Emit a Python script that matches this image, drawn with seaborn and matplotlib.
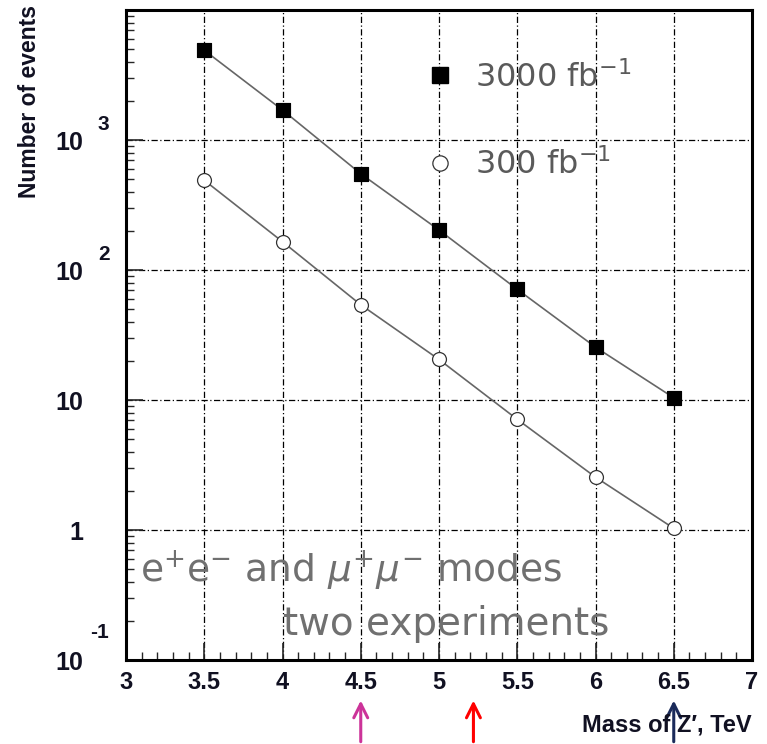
import numpy as np
import pandas as pd
import matplotlib
matplotlib.use("Agg")
import matplotlib.pyplot as plt
import seaborn as sns
from matplotlib.ticker import FixedLocator, FixedFormatter, LogLocator, MultipleLocator, NullFormatter
from matplotlib.lines import Line2D
import matplotlib.transforms as mtransforms

# ---- data ----
mass = [3.5, 4.0, 4.5, 5.0, 5.5, 6.0, 6.5]
events_3000 = [4900, 1700, 550, 203, 71, 25.5, 10.4]
events_300 = [490, 165, 54, 20.5, 7.1, 2.55, 1.03]
series_labels = ["3000 fb$^{-1}$", "300 fb$^{-1}$"]
ytick_vals = [0.1, 1, 10, 100, 1000]
ytick_base = ["10", "1", "10", "10", "10"]
ytick_exp = ["-1", "", "", "2", "3"]
xtick_vals = [3, 3.5, 4, 4.5, 5, 5.5, 6, 6.5, 7]
xtick_labels = ["3", "3.5", "4", "4.5", "5", "5.5", "6", "6.5", "7"]
arrow_x = [4.5, 5.22, 6.5]
arrow_colors = ["#cc3399", "#ff0000", "#1a2a5a"]

df = pd.DataFrame({
    "mass": mass * 2,
    "events": events_3000 + events_300,
    "lumi": [series_labels[0]] * len(mass) + [series_labels[1]] * len(mass),
})

sns.set_theme(style="white")
plt.rcParams["font.family"] = ["Liberation Sans", "DejaVu Sans"]
plt.rcParams["mathtext.fontset"] = "dejavusans"

W, H = 767, 744
PX = 0.72  # points per pixel
fig = plt.figure(figsize=(W / 100, H / 100), dpi=100)
ax = fig.add_axes([126 / W, 1 - 660 / H, (752 - 126) / W, (660 - 10) / H])

sns.lineplot(data=df, x="mass", y="events", units="lumi", estimator=None,
             color="#666666", linewidth=1.2, ax=ax, legend=False)
sns.scatterplot(data=df[df.lumi == series_labels[0]], x="mass", y="events",
                marker="s", s=110, color="black", edgecolor="black", ax=ax, legend=False, zorder=5)
sns.scatterplot(data=df[df.lumi == series_labels[1]], x="mass", y="events",
                marker="o", s=100, facecolor="white", edgecolor="#333333", linewidth=0.9,
                ax=ax, legend=False, zorder=5)

ax.set_yscale("log")
ax.set_xlim(3, 7)
ax.set_ylim(0.1, 1e4)

ax.xaxis.set_major_locator(FixedLocator(xtick_vals))
ax.xaxis.set_major_formatter(FixedFormatter(xtick_labels))
ax.xaxis.set_minor_locator(MultipleLocator(0.1))
ax.yaxis.set_major_locator(FixedLocator(ytick_vals))
ax.yaxis.set_major_formatter(FixedFormatter(ytick_base))
ax.yaxis.set_minor_locator(LogLocator(base=10, subs=np.arange(2, 10), numticks=20))
ax.yaxis.set_minor_formatter(NullFormatter())

ax.tick_params(axis="x", which="major", direction="in", length=12, width=1.2,
               labelsize=17, pad=8, bottom=True, top=False)
ax.tick_params(axis="y", which="major", direction="in", length=12, width=1.2,
               labelsize=18, pad=(126 - 83) * PX, left=True, right=False)
ax.tick_params(axis="both", which="minor", direction="in", length=6, width=1.0,
               bottom=True, left=True, top=False, right=False)
for lab in ax.get_xticklabels() + ax.get_yticklabels():
    lab.set_fontweight("bold")
    lab.set_color("#111122")

# exponents of the y tick labels
ytrans = mtransforms.blended_transform_factory(ax.transAxes, ax.transData)
for yv, e in zip(ytick_vals, ytick_exp):
    if e:
        up = 16 if yv > 1 else 27
        left_px = 98 if yv > 1 else 90
        off = mtransforms.offset_copy(ytrans, fig=fig, x=0, y=up * PX, units="points")
        ax.text((left_px - 126) / 626, yv, e,
                transform=off, fontsize=15, fontweight="bold", color="#111122",
                ha="left", va="center", clip_on=False)

for sp in ax.spines.values():
    sp.set_linewidth(2.2)
    sp.set_color("black")

ax.grid(True, which="major", color="black", linewidth=0.9, linestyle=(0, (5, 2, 1, 2)))

ax.set_xlabel("")
ax.set_ylabel("")

# legend
handles = [
    Line2D([], [], marker="s", linestyle="none", markersize=11, color="black"),
    Line2D([], [], marker="o", linestyle="none", markersize=11, markerfacecolor="white",
           markeredgecolor="#333333", markeredgewidth=0.9),
]
leg = ax.legend(handles, series_labels, loc="upper left", bbox_to_anchor=(0.43, 0.966),
                frameon=False, prop={"family": "DejaVu Sans", "size": 23},
                labelspacing=1.72, handletextpad=0.6, handlelength=1.0)
for t in leg.get_texts():
    t.set_color("#5a5a5a")

ax.text(0.022, 0.12, r"e$^{+}$e$^{-}$ and $\mu^{+}\mu^{-}$ modes",
        transform=ax.transAxes, fontsize=27, family="DejaVu Sans", color="#707070",
        va="baseline", ha="left")
ax.text(0.251, 0.0385, "two experiments", transform=ax.transAxes, fontsize=28,
        family="DejaVu Sans", color="#707070", va="baseline", ha="left")

fig.text(30 / W, 1 - 5 / H, "Number of events", rotation=90, ha="center", va="top",
         fontsize=16.5, fontweight="bold", color="#111122")
fig.text(752 / W, 1 - 725 / H, "Mass of Z\u2032, TeV", ha="right", va="center",
         fontsize=17, fontweight="bold", color="#111122")

for xv, c in zip(arrow_x, arrow_colors):
    ax.annotate("", xy=(xv, -0.058), xytext=(xv, -0.13),
                xycoords=("data", "axes fraction"), textcoords=("data", "axes fraction"),
                arrowprops=dict(arrowstyle="->", color=c, lw=2.2, mutation_scale=25),
                annotation_clip=False)

fig.savefig("out.png", dpi=100)
